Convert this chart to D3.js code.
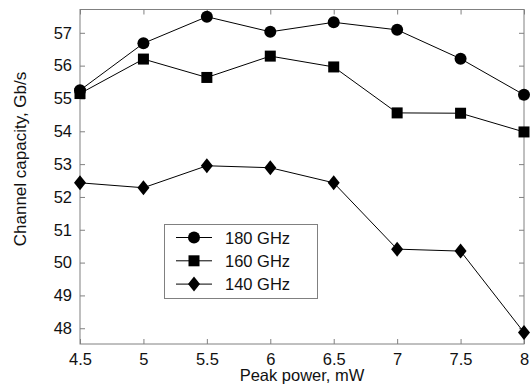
<!DOCTYPE html>
<html>
<head>
<meta charset="utf-8">
<script src="https://cdn.jsdelivr.net/npm/d3@7"></script>
<style>
  body { margin: 0; background: #fff; }
  svg text { font-family: "Liberation Sans", Arial, sans-serif; }
</style>
</head>
<body>
<div id="chart"></div>
<script>
// peak power, mW
const power = [4.5, 5, 5.5, 6, 6.5, 7, 7.5, 8];
const cap180 = [55.25, 56.68, 57.49, 57.03, 57.32, 57.09, 56.21, 55.11];
const cap160 = [55.15, 56.2, 55.64, 56.29, 55.96, 54.56, 54.55, 53.98];
const cap140 = [52.43, 52.28, 52.95, 52.89, 52.43, 50.41, 50.35, 47.87];
const seriesNames = ['180 GHz', '160 GHz', '140 GHz'];
const xTicks = [4.5, 5, 5.5, 6, 6.5, 7, 7.5, 8];
const yTicks = [48, 49, 50, 51, 52, 53, 54, 55, 56, 57];

const width = 532, height = 387;
const margin = { left: 80, right: 8, top: 9.5, bottom: 43 };
const axisColor = '#808080';
const fontSize = '16.5px';

const svg = d3.select('#chart').append('svg')
  .attr('width', width)
  .attr('height', height);

const x = d3.scaleLinear().domain([4.5, 8]).range([margin.left, width - margin.right]);
const y = d3.scaleLinear().domain([47.52, 57.71]).range([height - margin.bottom, margin.top]);

const x0 = x.range()[0], x1 = x.range()[1];
const y0 = y.range()[0], y1 = y.range()[1];

// frame
svg.append('rect')
  .attr('x', x0).attr('y', y1)
  .attr('width', x1 - x0).attr('height', y0 - y1)
  .attr('fill', 'none').attr('stroke', axisColor).attr('stroke-width', 1);

// ticks, inward on all four sides
const tickLen = 5;
const fmt = d => String(d);

const xb = svg.append('g').attr('transform', `translate(0,${y0})`)
  .call(d3.axisBottom(x).tickValues(xTicks).tickFormat(fmt).tickSizeInner(-tickLen).tickSizeOuter(0).tickPadding(9));
const xt = svg.append('g').attr('transform', `translate(0,${y1})`)
  .call(d3.axisTop(x).tickValues(xTicks).tickFormat('').tickSizeInner(-tickLen).tickSizeOuter(0));
const yl = svg.append('g').attr('transform', `translate(${x0},0)`)
  .call(d3.axisLeft(y).tickValues(yTicks).tickFormat(fmt).tickSizeInner(-tickLen).tickSizeOuter(0).tickPadding(8));
const yr = svg.append('g').attr('transform', `translate(${x1},0)`)
  .call(d3.axisRight(y).tickValues(yTicks).tickFormat('').tickSizeInner(-tickLen).tickSizeOuter(0));

[xb, xt, yl, yr].forEach(g => {
  g.select('.domain').remove();
  g.selectAll('line').attr('stroke', axisColor);
  g.selectAll('text').attr('fill', '#111').style('font-size', fontSize);
});

// markers
function drawMarker(g, kind, cx, cy) {
  if (kind === 'circle') {
    g.append('circle').attr('cx', cx).attr('cy', cy).attr('r', 6).attr('fill', '#000');
  } else if (kind === 'square') {
    g.append('rect').attr('x', cx - 5.5).attr('y', cy - 5.5).attr('width', 11).attr('height', 11).attr('fill', '#000');
  } else {
    g.append('path').attr('d', `M${cx},${cy - 7.5}L${cx + 6},${cy}L${cx},${cy + 7.5}L${cx - 6},${cy}Z`).attr('fill', '#000');
  }
}

const series = [
  { name: seriesNames[0], values: cap180, marker: 'circle' },
  { name: seriesNames[1], values: cap160, marker: 'square' },
  { name: seriesNames[2], values: cap140, marker: 'diamond' }
];

const line = d3.line().x(d => x(d[0])).y(d => y(d[1]));

series.forEach(s => {
  const pts = power.map((p, i) => [p, s.values[i]]);
  svg.append('path').datum(pts)
    .attr('d', line)
    .attr('fill', 'none').attr('stroke', '#000').attr('stroke-width', 1);
  const g = svg.append('g');
  pts.forEach(d => drawMarker(g, s.marker, x(d[0]), y(d[1])));
});

// legend
const legend = svg.append('g');
legend.append('rect')
  .attr('x', 164.5).attr('y', 224.5).attr('width', 153).attr('height', 74)
  .attr('fill', '#fff').attr('stroke', axisColor);
series.forEach((s, i) => {
  const ly = 237.5 + i * 23.3;
  legend.append('line').attr('x1', 176).attr('x2', 212).attr('y1', ly).attr('y2', ly)
    .attr('stroke', '#000').attr('stroke-width', 1);
  drawMarker(legend, s.marker, 194, ly);
  legend.append('text').attr('x', 225).attr('y', ly + 6)
    .style('font-size', fontSize).attr('fill', '#111').text(s.name);
});

// axis titles
svg.append('text')
  .attr('x', (x0 + x1) / 2).attr('y', 381)
  .attr('text-anchor', 'middle').style('font-size', fontSize).attr('fill', '#111')
  .text('Peak power, mW');
svg.append('text')
  .attr('transform', 'translate(26,159) rotate(-90)')
  .attr('text-anchor', 'middle').style('font-size', '17px').attr('fill', '#111')
  .text('Channel capacity, Gb/s');
</script>
</body>
</html>
